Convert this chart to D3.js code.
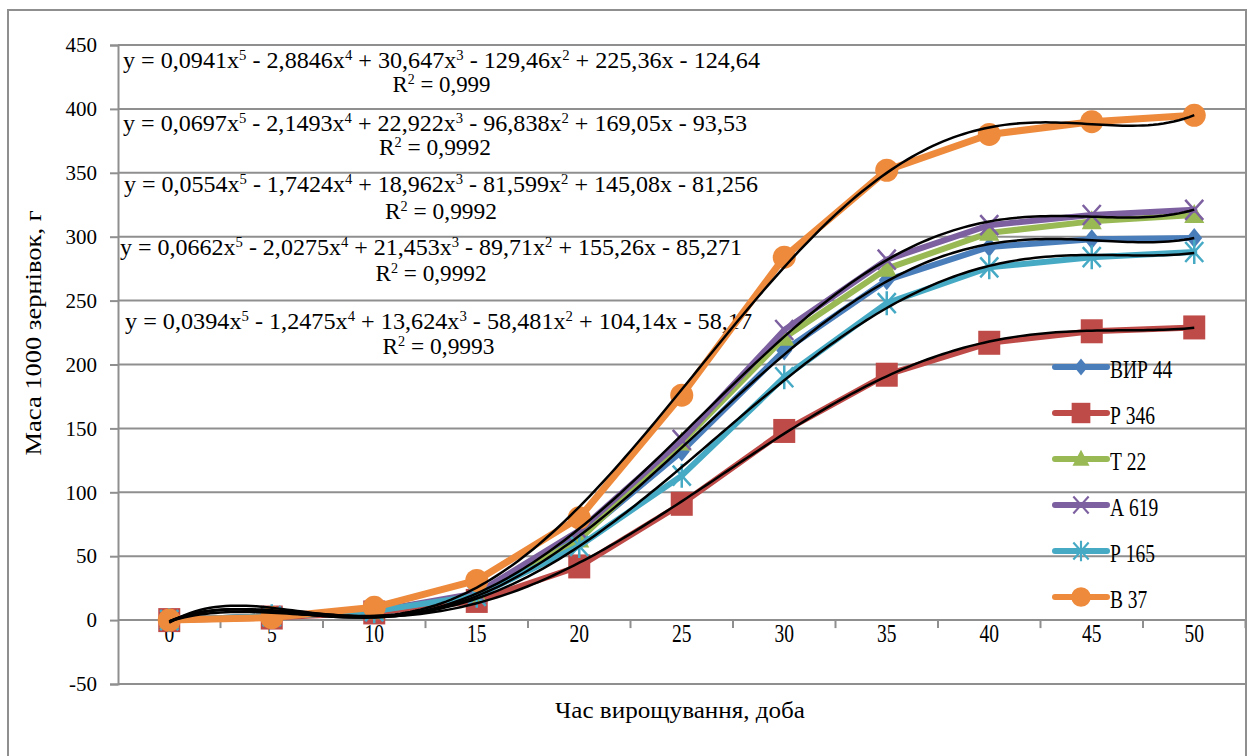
<!DOCTYPE html>
<html>
<head>
<meta charset="utf-8">
<script src="https://cdn.jsdelivr.net/npm/d3@7"></script>
<style>
  body { margin: 0; background: #fff; }
  svg, svg text { font-family: "Liberation Serif", "DejaVu Serif", serif !important; }
  text { fill: #000; white-space: pre; }
</style>
</head>
<body>
<svg id="chart" width="1252" height="756" font-family="Liberation Serif, serif"></svg>
<script>
// --- Data ---
const days = [0, 5, 10, 15, 20, 25, 30, 35, 40, 45, 50];
const seriesNames = ["ВИР 44", "Р 346", "Т 22", "А 619", "Р 165", "В 37"];
const vir44 = [0, 3, 7, 18, 65, 132, 211, 266, 292, 298, 299];
const r346  = [0, 2, 6, 15, 42, 91, 148, 192, 217, 226, 229];
const t22   = [0, 3, 7, 20, 63, 139, 221, 275, 303, 312, 317];
const a619  = [0, 3, 7, 21, 70, 141, 227, 282, 309, 317, 321];
const r165  = [0, 3, 7, 19, 58, 113, 190, 248, 276, 284, 288];
const b37   = [0, 2, 10, 31, 80, 176, 284, 352, 380, 390, 395];
const seriesValues = [vir44, r346, t22, a619, r165, b37];
const seriesColors = ["#4a7ebb", "#be4b48", "#98b954", "#7d60a0", "#46aac5", "#ee8a3c"];
const markerTypes = ["diamond", "square", "triangle", "x", "star", "circle"];
const trendSeries = [5, 3, 0, 4, 1];    // series with a polynomial trendline (order 5)
const yTicks = d3.range(-50, 451, 50);

// Trendline labels, top to bottom
const equations = [
  "y = 0,0941x^5 - 2,8846x^4 + 30,647x^3 - 129,46x^2 + 225,36x - 124,64",
  "y = 0,0697x^5 - 2,1493x^4 + 22,922x^3 - 96,838x^2 + 169,05x - 93,53",
  "y = 0,0554x^5 - 1,7424x^4 + 18,962x^3 - 81,599x^2 + 145,08x - 81,256",
  "y = 0,0662x^5 - 2,0275x^4 + 21,453x^3 - 89,71x^2 + 155,26x - 85,271",
  "y = 0,0394x^5 - 1,2475x^4 + 13,624x^3 - 58,481x^2 + 104,14x - 58,17"
];
const r2Labels = ["R^2 = 0,999", "R^2 = 0,9992", "R^2 = 0,9992", "R^2 = 0,9992", "R^2 = 0,9993"];

// Where each label sits (x, baseline, width of the line of text)
const eqLayout = [
  {x: 123, y: 67.5,  w: 637, ry: 91.5,  rw: 98},
  {x: 123, y: 130.5, w: 624, ry: 155,   rw: 112},
  {x: 124, y: 192,   w: 634, ry: 218.5, rw: 112},
  {x: 120, y: 254.5, w: 622, ry: 280.5, rw: 111},
  {x: 125, y: 329,   w: 627, ry: 353.5, rw: 112}
];

const gray = "#8f8f8f";
const svg = d3.select("#chart");

// --- Scales ---
const x = d3.scaleLinear().domain([-2.5, 52.5]).range([118, 1245.5]);
const y = d3.scaleLinear().domain([-50, 450]).range([684, 45]);

// --- Outer frame ---
svg.append("rect")
    .attr("x", 8).attr("y", 10)
    .attr("width", 1238).attr("height", 800)
    .attr("fill", "none")
    .attr("stroke", gray)
    .attr("stroke-width", 2);

// --- Gridlines ---
svg.append("g")
    .selectAll("line")
    .data(yTicks)
    .join("line")
    .attr("x1", x(-2.5)).attr("x2", x(52.5))
    .attr("y1", d => y(d)).attr("y2", d => y(d))
    .attr("stroke", gray)
    .attr("stroke-width", 2);

// --- Y axis ---
const yAxis = svg.append("g")
    .attr("transform", `translate(${x(-2.5)},0)`)
    .call(d3.axisLeft(y).tickValues(yTicks).tickSize(8).tickPadding(13).tickFormat(d => String(d)));
yAxis.attr("font-family", null).attr("font-size", 21);
yAxis.selectAll("path, line").attr("stroke", gray).attr("stroke-width", 2);
yAxis.selectAll("text").attr("fill", "#000");

// --- X axis (crosses at 0) ---
const xAxis = svg.append("g");
xAxis.append("line")
    .attr("x1", x(-2.5)).attr("x2", x(52.5))
    .attr("y1", y(0)).attr("y2", y(0))
    .attr("stroke", gray).attr("stroke-width", 2);
xAxis.selectAll(".tick")
    .data(days.map(d => d + 2.5))
    .join("line")
    .attr("x1", d => x(d)).attr("x2", d => x(d))
    .attr("y1", y(0)).attr("y2", y(0) + 8)
    .attr("stroke", gray).attr("stroke-width", 2);
xAxis.selectAll("text")
    .data(days)
    .join("text")
    .attr("transform", d => `translate(${x(d)},${y(0) + 22}) scale(0.78,1)`)
    .attr("text-anchor", "middle")
    .attr("font-size", 25)
    .text(d => d);

// --- Axis titles ---
svg.append("text")
    .attr("transform", "translate(41,333) rotate(-90)")
    .attr("text-anchor", "middle")
    .attr("font-size", 23)
    .attr("textLength", 245)
    .attr("lengthAdjust", "spacingAndGlyphs")
    .text("Маса 1000 зернівок, г");

svg.append("text")
    .attr("x", 680).attr("y", 718)
    .attr("text-anchor", "middle")
    .attr("font-size", 23)
    .attr("textLength", 250)
    .attr("lengthAdjust", "spacingAndGlyphs")
    .text("Час вирощування, доба");

// Write a string with ^n superscripts into a text element
function writeSup(textSel, str) {
    const parts = str.split(/\^(\d)/);
    parts.forEach((p, i) => {
        if (i % 2 === 1) {
            textSel.append("tspan").attr("dy", -8).attr("font-size", 14).text(p);
        } else if (p.length) {
            textSel.append("tspan").attr("dy", i > 0 ? 8 : 0).text(p);
        }
    });
}

// --- Trendline labels ---
equations.forEach((eq, i) => {
    const L = eqLayout[i];
    const t = svg.append("text")
        .attr("x", L.x).attr("y", L.y)
        .attr("font-size", 23)
        .attr("textLength", L.w)
        .attr("lengthAdjust", "spacingAndGlyphs");
    writeSup(t, eq);
    const r = svg.append("text")
        .attr("x", L.x + L.w / 2).attr("y", L.ry)
        .attr("text-anchor", "middle")
        .attr("font-size", 23)
        .attr("textLength", L.rw)
        .attr("lengthAdjust", "spacingAndGlyphs");
    writeSup(r, r2Labels[i]);
});

// --- Markers ---
function drawMarker(g, type, color, cx, cy, s = 1) {
    const m = g.append("g").attr("transform", `translate(${cx},${cy}) scale(${s})`);
    switch (type) {
        case "diamond":
            m.append("path").attr("d", "M0,-10L8,0L0,10L-8,0Z").attr("fill", color);
            break;
        case "square":
            m.append("rect").attr("x", -11).attr("y", -12).attr("width", 22).attr("height", 24).attr("fill", color);
            break;
        case "triangle":
            m.append("path").attr("d", "M0,-11L10,8L-10,8Z").attr("fill", color);
            break;
        case "x":
            m.append("path").attr("d", "M-9,-10L9,10M9,-10L-9,10")
                .attr("stroke", color).attr("stroke-width", 2.5).attr("fill", "none");
            break;
        case "star":
            m.append("path").attr("d", "M-9,-10L9,10M9,-10L-9,10M0,-12L0,12")
                .attr("stroke", color).attr("stroke-width", 2.5).attr("fill", "none");
            break;
        case "circle":
            m.append("circle").attr("r", 11.5).attr("fill", color);
            break;
    }
}

// --- Series ---
const line = d3.line().x((d, i) => x(days[i])).y(d => y(d));
seriesValues.forEach((vals, s) => {
    const g = svg.append("g");
    g.append("path")
        .attr("d", line(vals))
        .attr("fill", "none")
        .attr("stroke", seriesColors[s])
        .attr("stroke-width", s === 5 ? 7 : 6)
        .attr("stroke-linejoin", "round")
        .attr("stroke-linecap", "round");
    vals.forEach((v, i) => drawMarker(g, markerTypes[s], seriesColors[s], x(days[i]), y(v)));
});

// --- Polynomial trendlines (least squares, order 5, fitted to each series) ---
function polyFit(vals, order) {
    const n = order + 1;
    const A = d3.range(n).map(() => new Array(n + 1).fill(0));
    vals.forEach((v, i) => {
        const u = (i + 1 - 6) / 5;
        for (let r = 0; r < n; r++) {
            for (let c = 0; c < n; c++) A[r][c] += Math.pow(u, r + c);
            A[r][n] += v * Math.pow(u, r);
        }
    });
    for (let c = 0; c < n; c++) {
        let p = c;
        for (let r = c + 1; r < n; r++) if (Math.abs(A[r][c]) > Math.abs(A[p][c])) p = r;
        [A[c], A[p]] = [A[p], A[c]];
        for (let r = 0; r < n; r++) {
            if (r === c) continue;
            const f = A[r][c] / A[c][c];
            for (let k = c; k <= n; k++) A[r][k] -= f * A[c][k];
        }
    }
    return A.map((row, r) => row[n] / row[r]);
}

const trendX = d3.range(0, 50.01, 0.25);
trendSeries.forEach(s => {
    const coef = polyFit(seriesValues[s], 5);
    const pts = trendX.map(t => {
        const u = (t / 5 + 1 - 6) / 5;
        return [t, coef.reduce((acc, c, j) => acc + c * Math.pow(u, j), 0)];
    });
    svg.append("path")
        .attr("d", d3.line().x(d => x(d[0])).y(d => y(d[1]))(pts))
        .attr("fill", "none")
        .attr("stroke", "#000")
        .attr("stroke-width", 2.5);
});

// --- Legend ---
const legend = svg.append("g");
seriesNames.forEach((name, i) => {
    const ly = 367 + i * 46;
    legend.append("line")
        .attr("x1", 1055).attr("x2", 1107)
        .attr("y1", ly).attr("y2", ly)
        .attr("stroke", seriesColors[i])
        .attr("stroke-width", 6)
        .attr("stroke-linecap", "round");
    drawMarker(legend, markerTypes[i], seriesColors[i], 1081, ly, 0.85);
    legend.append("text")
        .attr("transform", `translate(1110,${ly + 11}) scale(0.78,1)`)
        .attr("font-size", 25)
        .text(name);
});
</script>
</body>
</html>
